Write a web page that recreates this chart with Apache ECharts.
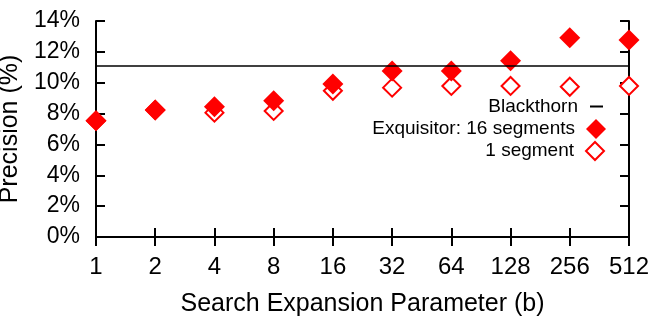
<!DOCTYPE html>
<html>
<head>
<meta charset="utf-8">
<script src="https://cdn.jsdelivr.net/npm/echarts@6/dist/echarts.min.js"></script>
<style>html,body{margin:0;padding:0;background:#fff;}#c{width:650px;height:325px;}</style>
</head>
<body>
<div id="c"></div>
<script>
var categories = ['1','2','4','8','16','32','64','128','256','512'];
var exq16 = [7.54, 8.23, 8.45, 8.83, 9.92, 10.76, 10.76, 11.43, 12.92, 12.77];
var exq1  = [7.54, 8.23, 8.06, 8.17, 9.48, 9.68, 9.79, 9.79, 9.74, 9.79];
var blackthorn = 11.1;
var yTicks = [0, 14, 2]; // min, max, interval

var FONT = 'Liberation Sans, Arial, sans-serif';
var RED = '#ff0000';
var chart = echarts.init(document.getElementById('c'), null, {renderer: 'canvas'});
var axisLine = {show: true, lineStyle: {color: '#000', width: 2}};
var tick = {show: true, inside: true, length: 9, lineStyle: {color: '#000', width: 2}};
chart.setOption({
  animation: false,
  backgroundColor: '#fff',
  grid: {left: 96, right: 21, top: 21, bottom: 88, containLabel: false, outerBoundsMode: 'none'},
  xAxis: [{
    type: 'category', data: categories, boundaryGap: false, position: 'bottom',
    axisLine: axisLine, axisTick: tick,
    axisLabel: {color: '#000', fontFamily: FONT, fontSize: 24, margin: 18},
    splitLine: {show: false},
    name: 'Search Expansion Parameter (b)', nameLocation: 'middle', nameGap: 55,
    nameTextStyle: {color: '#000', fontFamily: FONT, fontSize: 25}
  }, {
    type: 'category', data: categories, boundaryGap: false, position: 'top',
    axisLine: axisLine, axisTick: tick, axisLabel: {show: false}, splitLine: {show: false}
  }],
  yAxis: [{
    type: 'value', min: yTicks[0], max: yTicks[1], interval: yTicks[2], position: 'left',
    axisLine: axisLine, axisTick: tick, splitLine: {show: false},
    axisLabel: {color: '#000', fontFamily: FONT, fontSize: 23, margin: 16, formatter: '{value}%',
      padding: [0, 0, 14, 0]},
    name: 'Precision (%)', nameLocation: 'middle', nameGap: 67, nameRotate: 90,
    nameTextStyle: {color: '#000', fontFamily: FONT, fontSize: 25}
  }, {
    type: 'value', min: yTicks[0], max: yTicks[1], interval: yTicks[2], position: 'right',
    axisLine: axisLine, axisTick: tick, splitLine: {show: false}, axisLabel: {show: false}
  }],
  legend: [{
    data: ['Blackthorn'], right: 47, top: 97, orient: 'vertical', align: 'right', padding: 0,
    icon: 'rect', itemWidth: 13, itemHeight: 2,
    textStyle: {color: '#000', fontFamily: FONT, fontSize: 19, padding: [0, 7, 0, 0]}
  }, {
    data: ['Exquisitor: 16 segments'], right: 44, top: 119, orient: 'vertical', align: 'right', padding: 0,
    icon: 'diamond', itemWidth: 20, itemHeight: 20,
    textStyle: {color: '#000', fontFamily: FONT, fontSize: 19, padding: [0, 6, 0, 0]}
  }, {
    data: ['1 segment'], right: 45, top: 141, orient: 'vertical', align: 'right', padding: 0,
    icon: 'diamond', itemWidth: 18, itemHeight: 18,
    textStyle: {color: '#000', fontFamily: FONT, fontSize: 19, padding: [0, 7, 0, 0]}
  }],
  series: [{
    name: 'Blackthorn', type: 'line', data: [], symbol: 'none',
    itemStyle: {color: '#000'}, lineStyle: {color: '#000', width: 1.5},
    markLine: {silent: true, symbol: 'none', label: {show: false},
      lineStyle: {color: '#000', width: 1.5, type: 'solid'},
      data: [{yAxis: blackthorn}]}
  }, {
    name: '1 segment', type: 'scatter', data: exq1, symbol: 'diamond', symbolSize: 18, z: 3,
    itemStyle: {color: '#fff', borderColor: RED, borderWidth: 2, opacity: 1}
  }, {
    name: 'Exquisitor: 16 segments', type: 'scatter', data: exq16, symbol: 'diamond', symbolSize: 21, z: 4,
    itemStyle: {color: RED, opacity: 1}
  }]
});
</script>
</body>
</html>
